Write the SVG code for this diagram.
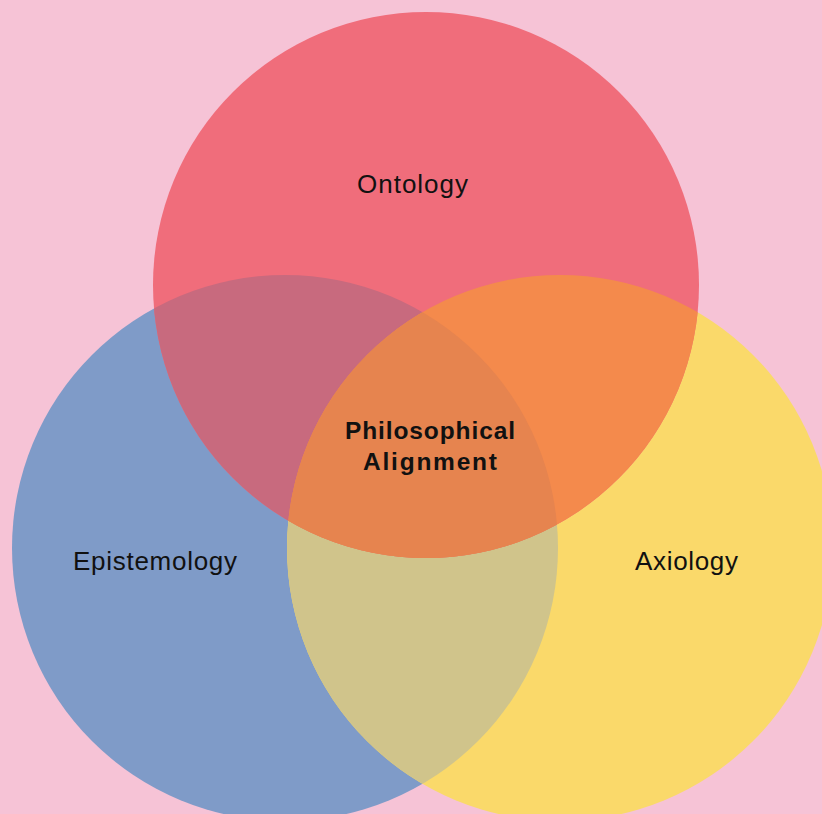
<svg xmlns="http://www.w3.org/2000/svg" width="822" height="814" viewBox="0 0 822 814">
<style>
.lbl{font-family:"Liberation Sans",Arial,sans-serif;font-size:26px;fill:#111;text-anchor:middle}
.ctr{font-family:"Liberation Sans",Arial,sans-serif;font-size:24.5px;font-weight:bold;fill:#111;text-anchor:middle}
</style>
<defs>
<clipPath id="cRed"><circle cx="426" cy="285" r="273"/></clipPath>
<clipPath id="cBlue"><circle cx="285" cy="548" r="273"/></clipPath>
<clipPath id="cYellow"><circle cx="560" cy="548" r="273"/></clipPath>
</defs>
<rect width="822" height="814" fill="#F6C3D6"/>
<g id="epistemology">
<circle cx="285" cy="548" r="273" fill="#7F9BC8"/>
</g>
<g id="axiology">
<circle cx="560" cy="548" r="273" fill="#FAD96A"/>
</g>
<g id="ontology">
<circle cx="426" cy="285" r="273" fill="#F06D7B"/>
</g>
<g id="overlaps">
<g clip-path="url(#cBlue)"><circle cx="560" cy="548" r="273" fill="#D0C48B"/></g>
<g clip-path="url(#cRed)"><circle cx="285" cy="548" r="273" fill="#C86A7E"/></g>
<g clip-path="url(#cRed)"><circle cx="560" cy="548" r="273" fill="#F48A4C"/></g>
<g clip-path="url(#cRed)"><g clip-path="url(#cBlue)"><circle cx="560" cy="548" r="273" fill="#E6844F"/></g></g>
</g>
<g id="labels">
<text class="lbl" x="412.5" y="192.5" textLength="111">Ontology</text>
<text class="lbl" x="155" y="570" textLength="164">Epistemology</text>
<text class="lbl" x="686.5" y="570" textLength="103">Axiology</text>
<text class="ctr" x="430" y="439" textLength="170">Philosophical</text>
<text class="ctr" x="430" y="470" textLength="134">Alignment</text>
</g>
</svg>
